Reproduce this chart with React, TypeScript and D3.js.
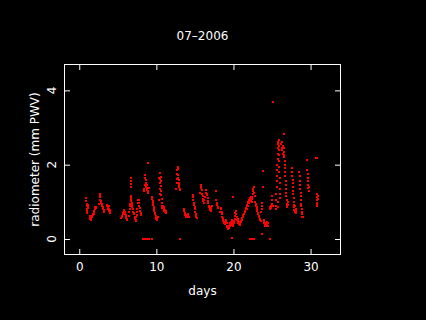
import { useEffect, useRef } from 'react';
import * as d3 from 'd3';

// [day of month, PWV in mm]
const week1: [number, number][] = [
  [0.92, 1.1], [0.93, 1.02], [0.95, 0.95], [0.96, 0.88], [0.98, 0.82], [1.0, 0.78], [1.02, 0.74], [1.04, 0.7], [1.06, 0.8], [1.08, 0.86], [1.1, 0.92], [1.12, 0.84],
  [1.35, 0.62], [1.4, 0.57], [1.45, 0.54], [1.5, 0.52], [1.55, 0.56], [1.6, 0.6], [1.65, 0.58], [1.7, 0.62], [1.75, 0.65], [1.8, 0.68], [1.85, 0.66], [1.9, 0.72], [1.95, 0.76], [2.0, 0.8], [2.05, 0.82], [2.1, 0.86], [2.15, 0.84], [2.2, 0.87],
  [2.6, 0.95], [2.65, 1.05], [2.7, 1.15], [2.72, 1.22], [2.75, 1.12], [2.8, 1.02], [2.85, 0.96], [2.9, 0.92], [2.95, 0.88], [3.0, 0.94], [3.05, 0.85], [3.1, 0.8], [3.15, 0.74], [3.2, 0.78], [3.25, 0.72],
  [3.55, 0.92], [3.6, 0.88], [3.65, 0.9], [3.7, 0.85], [3.75, 0.82], [3.8, 0.88], [3.85, 0.8], [3.9, 0.76], [3.95, 0.72], [4.0, 0.78], [4.05, 0.7],
  [5.45, 0.56], [5.5, 0.6], [5.55, 0.63], [5.6, 0.58], [5.65, 0.66], [5.7, 0.7], [5.75, 0.74], [5.8, 0.78], [5.85, 0.76], [5.9, 0.72], [5.95, 0.68], [6.0, 0.64], [6.05, 0.6], [6.1, 0.56], [6.15, 0.52], [6.2, 0.55],
  [6.45, 0.62], [6.5, 0.72], [6.55, 0.8], [6.6, 0.88], [6.62, 0.95], [6.65, 1.02], [6.7, 1.1], [6.72, 1.15], [6.75, 1.05], [6.78, 0.98], [6.8, 0.92], [6.85, 0.86], [6.9, 0.95], [6.95, 0.8], [7.0, 0.74], [7.05, 0.7],
  [6.65, 1.64], [6.68, 1.55], [6.72, 1.47], [6.75, 1.41],
];

const week2: [number, number][] = [
  [7.15, 0.66], [7.2, 0.6], [7.25, 0.55], [7.3, 0.5], [7.35, 0.48], [7.4, 0.58], [7.45, 0.64], [7.5, 0.72], [7.55, 0.82],
  [7.6, 0.96], [7.65, 1.04], [7.7, 1.06], [7.75, 0.98], [7.8, 0.9], [7.85, 0.84], [7.9, 0.76], [7.95, 0.7], [8.0, 0.64],
  [8.4, 1.28], [8.45, 1.35], [8.5, 1.45], [8.52, 1.65], [8.55, 1.72], [8.6, 1.58], [8.65, 1.5], [8.7, 1.4], [8.75, 1.32], [8.8, 1.36], [8.85, 1.46], [8.9, 1.3], [8.95, 1.25], [9.0, 1.38], [8.9, 2.05],
  [8.22, 0], [8.57, 0], [8.65, 0], [8.75, 0], [8.85, 0], [8.95, 0], [9.05, 0], [9.44, 0],
  [9.4, 1.14], [9.45, 1.08], [9.5, 1.02], [9.55, 0.96], [9.6, 0.92], [9.65, 0.86], [9.7, 0.8], [9.75, 0.76], [9.8, 0.7], [9.85, 0.66], [9.9, 0.62], [9.95, 0.58], [10.0, 0.55], [10.05, 0.52], [10.1, 0.56], [10.15, 0.6],
  [10.3, 1.64], [10.4, 1.05], [10.42, 1.2], [10.45, 1.35], [10.48, 1.5], [10.5, 1.62], [10.52, 1.77], [10.55, 1.68], [10.58, 1.55], [10.6, 1.42], [10.62, 1.3], [10.65, 1.18], [10.68, 1.08], [10.7, 0.98], [10.72, 0.9], [10.75, 0.84],
  [10.9, 0.9], [10.95, 0.86], [11.0, 0.8], [11.05, 0.76], [11.1, 0.74], [11.15, 0.78], [11.2, 0.72], [11.25, 0.75], [11.3, 0.7],
  [12.6, 1.35], [12.62, 1.5], [12.65, 1.62], [12.7, 1.75], [12.72, 1.85], [12.75, 1.95], [12.78, 1.88], [12.8, 1.72], [12.85, 1.65], [12.88, 1.58], [12.9, 1.52], [12.95, 1.45], [13.0, 1.4], [13.05, 1.35], [13.1, 1.32], [13.08, 0],
  [13.6, 0.82], [13.65, 0.76], [13.7, 0.7], [13.75, 0.65], [13.8, 0.6], [13.85, 0.62], [13.9, 0.58], [13.95, 0.64], [14.0, 0.6], [14.05, 0.66], [14.1, 0.62], [14.2, 0.58],
];

const week3: [number, number][] = [
  [14.7, 1.18], [14.75, 1.12], [14.8, 1.05], [14.85, 0.98], [14.9, 0.92], [14.95, 0.86], [15.0, 0.8], [15.05, 0.74], [15.1, 0.68], [15.15, 0.64], [15.2, 0.6], [15.25, 0.57],
  [15.7, 1.25], [15.75, 1.38], [15.8, 1.46], [15.85, 1.4], [15.9, 1.32], [15.95, 1.22], [16.0, 1.15], [16.05, 1.08], [16.1, 1.02], [16.15, 0.98], [16.2, 1.05], [16.25, 1.12],
  [16.45, 1.32], [16.5, 1.25], [16.55, 1.18], [16.6, 1.22], [16.65, 1.1], [16.7, 1.02], [16.75, 0.96], [16.8, 0.9], [16.85, 0.86], [16.9, 0.8], [16.95, 0.78], [17.0, 0.82], [17.05, 0.76], [17.1, 0.86], [17.15, 0.8], [17.2, 0.9],
  [17.75, 1.28], [17.8, 1.05], [17.85, 0.98], [17.9, 0.92], [17.95, 0.86], [18.0, 0.84],
  [18.3, 0.74], [18.35, 0.8], [18.4, 0.84], [18.45, 0.72], [18.5, 0.66], [18.55, 0.6], [18.6, 0.56], [18.65, 0.52], [18.7, 0.48], [18.75, 0.45], [18.8, 0.42], [18.85, 0.46], [18.9, 0.4],
  [19.0, 0.52], [19.05, 0.48], [19.1, 0.42], [19.15, 0.36], [19.2, 0.32], [19.25, 0.28], [19.3, 0.3], [19.35, 0.34], [19.4, 0.3], [19.45, 0.36], [19.5, 0.4], [19.55, 0.35], [19.6, 0.42], [19.65, 0.38], [19.7, 0.45], [19.75, 0.5],
  [19.8, 0.44], [19.85, 0.52], [19.9, 0.46], [19.95, 0.4], [20.0, 0.36], [20.05, 0.42], [20.1, 0.48], [20.15, 0.55], [20.2, 0.62], [20.25, 0.7], [20.3, 0.76], [20.35, 0.68], [20.4, 0.6], [20.45, 0.52],
  [19.9, 1.14], [19.8, 0.03],
  [20.55, 0.55], [20.6, 0.48], [20.65, 0.42], [20.7, 0.46], [20.75, 0.4], [20.8, 0.44], [20.85, 0.38], [20.9, 0.42], [20.95, 0.48],
];

const week4: [number, number][] = [
  [21.0, 0.45], [21.05, 0.52], [21.1, 0.5], [21.15, 0.56], [21.2, 0.6], [21.25, 0.58], [21.3, 0.64], [21.35, 0.68], [21.4, 0.66], [21.45, 0.72], [21.5, 0.76], [21.55, 0.74], [21.6, 0.8], [21.65, 0.84], [21.7, 0.82],
  [21.75, 0.88], [21.8, 0.92], [21.85, 0.9], [21.9, 0.96], [21.95, 1.0], [22.0, 0.98], [22.05, 1.04], [22.1, 1.08], [22.15, 1.02], [22.2, 1.1], [22.25, 1.06], [22.3, 1.12], [22.35, 1.08], [22.4, 1.0], [22.45, 1.14],
  [22.5, 1.2], [22.55, 1.28], [22.6, 1.35], [22.65, 1.4], [22.7, 1.25], [22.75, 1.15],
  [22.85, 1.0], [22.9, 0.95], [22.95, 0.9], [23.0, 0.86], [23.05, 0.8], [23.1, 0.75], [23.15, 0.7], [23.2, 0.66], [23.25, 0.62], [23.3, 0.58], [23.35, 0.62], [23.4, 0.55], [23.45, 0.5], [23.5, 0.54], [23.55, 0.48],
  [23.6, 0.72], [23.65, 0.8], [23.7, 0.9], [23.75, 0.98], [23.8, 1.4], [23.85, 1.83], [23.7, 0.14],
  [23.9, 0.52], [23.95, 0.46], [24.0, 0.42], [24.05, 0.38], [24.1, 0.34], [24.15, 0.4], [24.2, 0.36], [24.25, 0.42], [24.3, 0.38], [24.35, 0.45], [24.4, 0.4], [24.45, 0.35], [24.5, 0.42],
  [22.2, 0], [22.3, 0], [22.4, 0], [22.5, 0], [22.62, 0], [24.8, 0],
  [24.7, 0.8], [24.75, 0.86], [24.8, 0.82], [24.85, 0.9], [24.9, 0.84], [24.95, 0.95], [25.0, 1.05], [25.05, 1.15], [25.1, 0.88], [25.13, 3.69],
  [25.5, 1.05], [25.52, 0.9], [25.55, 0.8], [25.58, 1.2], [25.6, 1.4], [25.62, 1.55], [25.65, 1.7], [25.68, 1.85], [25.7, 2.0], [25.72, 2.15], [25.75, 2.3], [25.78, 2.45], [25.8, 2.62], [25.82, 2.55],
  [25.85, 2.4], [25.88, 2.25], [25.9, 2.1], [25.92, 1.95], [25.95, 1.8], [25.98, 1.65], [26.0, 1.5], [26.02, 1.35], [26.05, 1.2], [26.08, 1.1], [25.85, 2.66], [25.9, 2.5], [25.75, 1.0], [25.8, 0.85],
  [26.2, 2.55], [26.25, 2.45], [26.3, 2.6], [26.35, 2.4], [26.4, 2.5], [26.45, 2.3], [26.5, 2.45], [26.55, 2.35], [26.6, 2.83], [26.62, 2.2], [26.65, 2.1], [26.68, 2.0], [26.7, 1.9], [26.72, 1.8],
  [26.75, 1.7], [26.78, 1.55], [26.8, 1.45], [26.82, 1.35], [26.85, 1.25], [26.88, 1.15], [26.9, 1.05], [26.92, 0.95], [26.95, 0.9], [27.0, 0.85], [27.05, 1.0], [27.1, 0.92], [26.5, 2.2], [26.6, 2.25],
  [27.6, 1.9], [27.62, 1.8], [27.65, 1.7], [27.68, 1.6], [27.7, 1.5], [27.72, 1.4], [27.75, 1.3], [27.78, 1.2], [27.8, 1.1], [27.82, 1.0], [27.85, 0.92], [27.88, 0.85], [27.9, 0.78], [27.95, 0.72],
  [28.0, 0.9], [28.05, 0.82], [28.1, 0.75], [28.15, 0.7],
];

const week5: [number, number][] = [
  [28.55, 1.8], [28.6, 1.7], [28.62, 1.55], [28.65, 1.45], [28.68, 1.35], [28.7, 1.25], [28.72, 1.15], [28.75, 1.05], [28.78, 0.95], [28.8, 0.88], [28.85, 0.8], [28.9, 0.72], [28.95, 0.66], [29.0, 0.6], [28.9, 0.58],
  [29.55, 2.13], [29.6, 1.85], [29.62, 1.75], [29.65, 1.65], [29.68, 1.55], [29.7, 1.45], [29.72, 1.38], [29.75, 1.3], [29.8, 1.4],
  [30.75, 2.19], [30.85, 2.19], [30.8, 1.2], [30.82, 1.12], [30.85, 1.05], [30.88, 0.98], [30.9, 0.92], [30.92, 1.08], [30.95, 1.15], [30.85, 0.88],
];

const xTicks = [0, 10, 20, 30];
const yTicks = [0, 2, 4];

const App = () => {
  const svgRef = useRef<SVGSVGElement>(null);

  useEffect(() => {
    const width = 426;
    const height = 320;
    const margin = { top: 64, right: 85, bottom: 65, left: 64 };
    const font = '"DejaVu Sans", sans-serif';
    const points = [...week1, ...week2, ...week3, ...week4, ...week5];

    const svg = d3.select(svgRef.current);
    svg.selectAll('*').remove();
    svg.attr('width', width).attr('height', height);

    svg.append('rect').attr('width', width).attr('height', height).attr('fill', '#000');

    const x = d3.scaleLinear().domain([-1.98, 33.95]).range([margin.left, width - margin.right]);
    const y = d3.scaleLinear().domain([-0.43, 4.71]).range([height - margin.bottom, margin.top]);

    // points
    svg.append('g')
      .selectAll('rect')
      .data(points)
      .enter()
      .append('rect')
      .attr('x', d => Math.round(x(d[0])) - 1)
      .attr('y', d => Math.round(y(d[1])) - 1)
      .attr('width', 2)
      .attr('height', 2)
      .attr('fill', '#ff0000');

    // axes, ticks pointing inward on all four sides
    const styleAxis = (g: d3.Selection<SVGGElement, unknown, null, undefined>) => {
      g.select('.domain').remove();
      g.selectAll('line').attr('stroke', '#fff');
      g.selectAll('text').attr('fill', '#fff').attr('font-family', font).attr('font-size', 12);
    };

    svg.append('g')
      .attr('transform', `translate(0,${height - margin.bottom})`)
      .call(d3.axisBottom(x).tickValues(xTicks).tickSizeInner(-6).tickSizeOuter(0).tickPadding(7))
      .call(styleAxis);
    svg.append('g')
      .attr('transform', `translate(0,${margin.top})`)
      .call(d3.axisTop(x).tickValues(xTicks).tickSizeInner(-6).tickSizeOuter(0).tickFormat(() => ''))
      .call(styleAxis);

    const yLeft = svg.append('g')
      .attr('transform', `translate(${margin.left},0)`)
      .call(d3.axisLeft(y).tickValues(yTicks).tickSizeInner(-6).tickSizeOuter(0).tickFormat(() => ''))
      .call(styleAxis);
    svg.append('g')
      .attr('transform', `translate(${width - margin.right},0)`)
      .call(d3.axisRight(y).tickValues(yTicks).tickSizeInner(-6).tickSizeOuter(0).tickFormat(() => ''))
      .call(styleAxis);

    // rotated y tick labels
    yLeft.selectAll('.ylab')
      .data(yTicks)
      .enter()
      .append('text')
      .attr('class', 'ylab')
      .attr('transform', d => `translate(${52 - margin.left + 4},${y(d)}) rotate(-90)`)
      .attr('text-anchor', 'middle')
      .attr('fill', '#fff')
      .attr('font-family', font)
      .attr('font-size', 12)
      .text(d => d);

    // plot box
    svg.append('rect')
      .attr('x', margin.left + 0.5)
      .attr('y', margin.top + 0.5)
      .attr('width', width - margin.left - margin.right - 1)
      .attr('height', height - margin.top - margin.bottom - 1)
      .attr('fill', 'none')
      .attr('stroke', '#fff');

    const cx = (margin.left + width - margin.right) / 2;

    svg.append('text')
      .attr('x', cx)
      .attr('y', 40)
      .attr('text-anchor', 'middle')
      .attr('fill', '#fff')
      .attr('font-family', font)
      .attr('font-size', 12)
      .text('07\u20132006');

    svg.append('text')
      .attr('x', cx)
      .attr('y', 295)
      .attr('text-anchor', 'middle')
      .attr('fill', '#fff')
      .attr('font-family', font)
      .attr('font-size', 12)
      .text('days');

    svg.append('text')
      .attr('transform', `translate(39,${(margin.top + height - margin.bottom) / 2}) rotate(-90)`)
      .attr('text-anchor', 'middle')
      .attr('fill', '#fff')
      .attr('font-family', font)
      .attr('font-size', 12)
      .text('radiometer  (mm  PWV)');
  }, []);

  return (
    <div style={{ position: 'absolute', left: 0, top: 0, width: 426, height: 320 }}>
      <svg ref={svgRef} style={{ display: 'block' }}></svg>
    </div>
  );
};

export default App;
